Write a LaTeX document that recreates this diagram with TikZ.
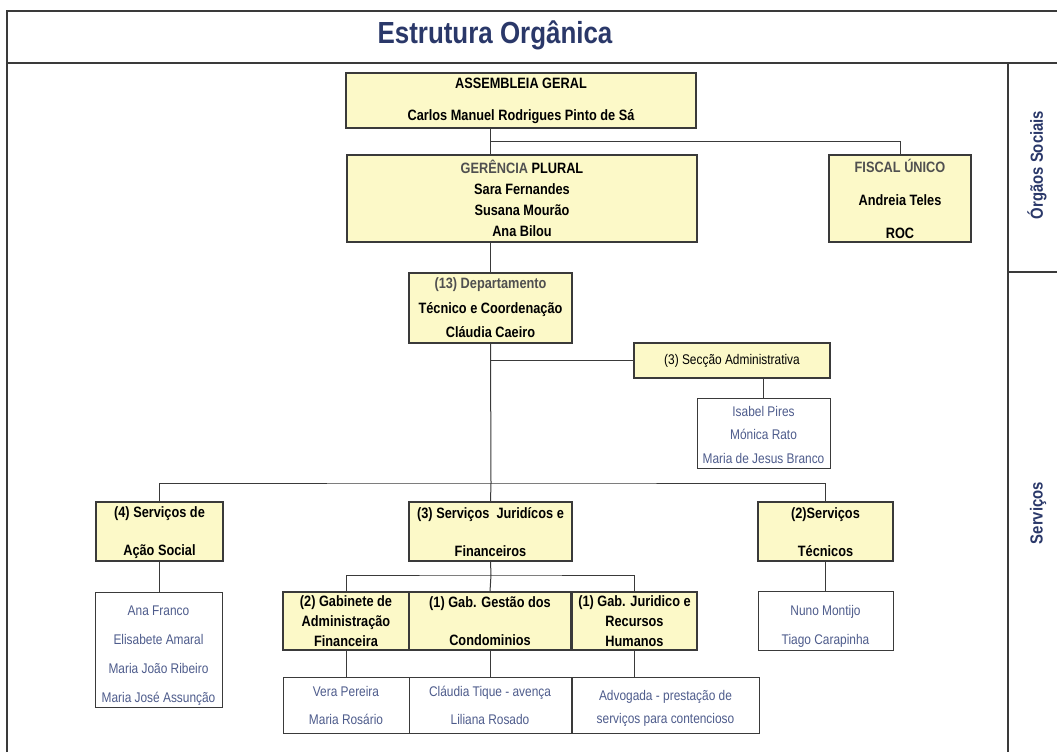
\documentclass[tikz,border=0pt]{standalone}
\usepackage{fontspec}
\setmainfont{Liberation Sans}[FakeStretch=0.85]
\usetikzlibrary{positioning, calc}
\definecolor{caixa}{HTML}{FCF9C8}
\definecolor{azul}{HTML}{2A3869}
\definecolor{nomes}{HTML}{4E5C8C}
\definecolor{linha}{HTML}{3A3A3A}
\definecolor{cinza}{HTML}{505050}

\begin{document}
\begin{tikzpicture}[x=1pt, y=-1pt,
    orgao/.style = {draw=linha, line width=1.1pt, fill=caixa, inner sep=0pt,
        align=center, font=\bfseries\fontsize{15}{#1}\selectfont},
    orgao/.default = 20,
    pessoas/.style = {draw=linha, line width=1pt, fill=white, inner sep=0pt,
        align=center, text=nomes, font=\fontsize{14}{#1}\selectfont},
    pessoas/.default = 28,
    con/.style = {draw=linha, line width=1pt},
    moldura/.style = {draw=linha, line width=1.4pt},
    rotulo/.style = {rotate=90, text=azul, font=\bfseries\fontsize{17.5}{20}\selectfont}
  ]
  \useasboundingbox (0,0) rectangle (1057,752);
  \fill[white] (0,0) rectangle (1057,752);

  % moldura
  \draw[moldura, line width=1.8pt] (7,752) -- (7,11) -- (1057,11);
  \draw[moldura] (7,63) -- (1057,63);
  \draw[moldura, line width=1.1pt] (1008,63) -- (1008,752);
  \draw[moldura, line width=1.1pt] (1008,272) -- (1057,272);

  \node[anchor=base, text=azul, font=\bfseries\fontsize{30.5}{36}\selectfont]
    (titulo) at (495,44) {Estrutura Orgânica};
  \node[rotulo] (orgsoc) at (1037,165) {Órgãos Sociais};
  \node[rotulo] (servicos) at (1038,513) {Serviços};

  % orgaos sociais
  \node[orgao=32, minimum width=350, minimum height=55] (ag) at (521,100.5)
    {ASSEMBLEIA GERAL\\Carlos Manuel Rodrigues Pinto de Sá};
  \node[orgao=21, minimum width=350, minimum height=87] (ger) at (522,198.5)
    {{\color{cinza}GERÊNCIA} PLURAL\\Sara Fernandes\\Susana Mourão\\Ana Bilou};
  \node[orgao=33, minimum width=142, minimum height=87] (fis) at (900,198.5)
    {{\color{cinza}FISCAL ÚNICO}\\Andreia Teles\\ROC};

  % departamento e seccao
  \node[orgao=24.5, minimum width=163, minimum height=70] (dep) at (490.5,308)
    {{\color{cinza}(13) Departamento}\\Técnico e Coordenação\\Cláudia Caeiro};
  \node[orgao, font=\fontsize{14}{16}\selectfont, minimum width=196, minimum height=35]
    (sec) at (732,360.5) {(3) Secção Administrativa};
  \node[pessoas=23.5, minimum width=133, minimum height=70] (secp) at (763.5,433)
    {\rule{0pt}{14pt}Isabel Pires\\Mónica Rato\\Maria de Jesus Branco};

  % servicos
  \node[orgao=38, minimum width=127, minimum height=59] (acao) at (159.5,531.5)
    {\rule{0pt}{13pt}(4) Serviços de\\Ação Social};
  \node[orgao=38, minimum width=163, minimum height=59] (jur) at (490.5,531.5)
    {\rule{0pt}{13pt}(3) Serviços \ Juridícos e\\Financeiros};
  \node[orgao=38, minimum width=135, minimum height=59] (tec) at (825.5,531.5)
    {\rule{0pt}{13pt}(2)Serviços\\Técnicos};

  \node[pessoas=29, minimum width=127, minimum height=115] (acaop) at (158.5,649.5)
    {\rule{0pt}{22pt}Ana Franco\\Elisabete Amaral\\Maria João Ribeiro\\Maria José Assunção};
  \node[pessoas=29, minimum width=135, minimum height=59] (tecp) at (825.5,620.5)
    {\rule{0pt}{22pt}Nuno Montijo\\Tiago Carapinha};

  % gabinetes
  \node[orgao=20, minimum width=126, minimum height=58] (gad) at (346,621)
    {(2) Gabinete de\\Administração\\Financeira};
  \node[orgao=38, minimum width=162, minimum height=58] (gge) at (490,621)
    {(1) Gab. Gestão dos\\Condominios};
  \node[orgao=20, minimum width=125, minimum height=58] (gjr) at (634.5,621)
    {(1) Gab. Juridico e\\Recursos\\Humanos};

  \node[pessoas, minimum width=126, minimum height=56] (vera) at (346,705)
    {Vera Pereira\\Maria Rosário};
  \node[pessoas, minimum width=162, minimum height=56] (cla) at (490,705)
    {Cláudia Tique - avença\\Liliana Rosado};
  \node[pessoas=23, minimum width=187, minimum height=56] (adv) at (665.5,705)
    {\rule{0pt}{16pt}Advogada - prestação de\\serviços para contencioso};

  % ligacoes
  \coordinate (jA) at (491,141);
  \coordinate (bus) at (491,483);
  \coordinate (bus2) at (491,575);
  \draw[con] (ag.south -| dep.north) -- (ger.north -| dep.north);
  \draw[con] (jA) -| (fis.north);
  \draw[con] (ger.south -| dep.north) -- (dep.north);
  \draw[con] (dep.south) -- (bus);
  \draw[con] (dep.south |- sec.west) -- (sec.west);
  \draw[con] (sec.south -| secp.north) -- (secp.north);
  \draw[con] (acao.north) |- (bus) -| (tec.north);
  \draw[con] (bus) -- (jur.north);
  \draw[con] (acao.south) -- (acao.south |- acaop.north);
  \draw[con] (tec.south) -- (tecp.north);
  \draw[con] (jur.south) -- (bus2);
  \draw[con] (gad.north) |- (bus2) -| (gjr.north);
  \draw[con] (bus2) -- (gge.north);
  \draw[con] (gad.south) -- (vera.north);
  \draw[con] (gge.south) -- (cla.north);
  \draw[con] (gjr.south) -- (gjr.south |- adv.north);
\end{tikzpicture}
\end{document}
